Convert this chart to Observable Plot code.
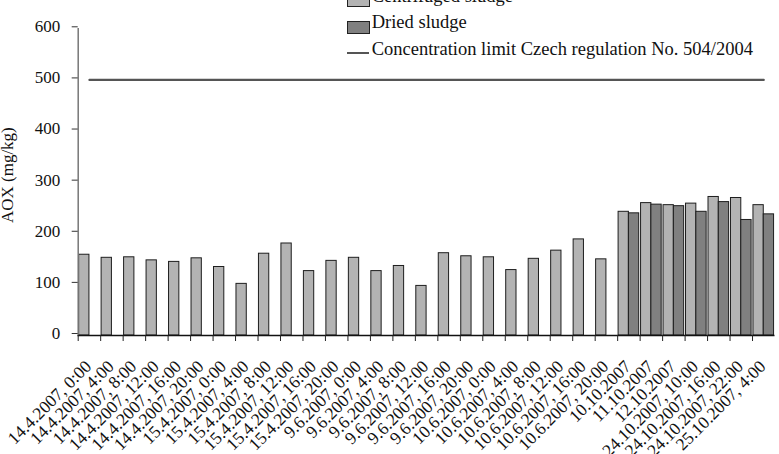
<!DOCTYPE html>
<html>
<head>
<meta charset="utf-8">
<script src="https://cdn.jsdelivr.net/npm/d3@7"></script>
<script src="https://cdn.jsdelivr.net/npm/@observablehq/plot@0.6"></script>
<style>
  html, body { margin: 0; padding: 0; background: #fff; }
  #chart { position: relative; width: 779px; height: 454px; overflow: hidden; font-family: "Liberation Serif", "DejaVu Serif", serif; color: #111; }
  #chart svg, #chart svg text { font-family: "Liberation Serif", "DejaVu Serif", serif; }
  .legend { position: absolute; left: 346.7px; top: -12.7px; font-size: 18.5px; }
  .legend .row { position: relative; height: 26.7px; white-space: nowrap; }
  .legend .box { position: absolute; left: 0; top: 6.7px; width: 21.6px; height: 11px; border: 1px solid #222; }
  .legend .line { position: absolute; left: 0; top: 11.3px; width: 22px; height: 2px; background: #555; }
  .legend .label { position: absolute; left: 25px; top: -0.6px; line-height: 18px; }
</style>
</head>
<body>
<div id="chart"></div>
<script>
// Sampling times (categories along the x axis)
const dates = [
  "14.4.2007, 0:00", "14.4.2007, 4:00", "14.4.2007, 8:00", "14.4.2007, 12:00",
  "14.4.2007, 16:00", "14.4.2007, 20:00", "15.4.2007, 0:00", "15.4.2007, 4:00",
  "15.4.2007, 8:00", "15.4.2007, 12:00", "15.4.2007, 16:00", "15.4.2007, 20:00",
  "9.6.2007, 0:00", "9.6.2007, 4:00", "9.6.2007, 8:00", "9.6.2007, 12:00",
  "9.6.2007, 16:00", "9.6.2007, 20:00", "10.6.2007, 0:00", "10.6.2007, 4:00",
  "10.6.2007, 8:00", "10.6.2007, 12:00", "10.6.2007, 16:00", "10.6.2007, 20:00",
  "10.10.2007", "11.10.2007", "12.10.2007",
  "24.10.2007, 10:00", "24.10.2007, 16:00", "24.10.2007, 22:00", "25.10.2007, 4:00"
];

// AOX in centrifuged sludge (mg/kg), one value per sampling time
const centrifuged = [
  158, 152, 153, 147, 144, 151, 134, 101, 160, 180, 126, 146,
  152, 126, 136, 97, 161, 155, 153, 128, 150, 166, 188, 149,
  242, 259, 255, 258, 271, 269, 255
];

// AOX in dried sludge (mg/kg); only measured in October
const dried = [
  null, null, null, null, null, null, null, null, null, null, null, null,
  null, null, null, null, null, null, null, null, null, null, null, null,
  239, 256, 253, 242, 261, 226, 237
];

// Concentration limit, Czech regulation No. 504/2004 (mg/kg)
const limit = 500;

const yTicks = [0, 100, 200, 300, 400, 500, 600];

const seriesNames = ["Centrifuged sludge", "Dried sludge", "Concentration limit Czech regulation No. 504/2004"];

const width = 779, height = 454;
const marginLeft = 77.7, marginRight = 4.5, marginTop = 28.3, marginBottom = 119;
const band = (width - marginLeft - marginRight) / dates.length;
const edge = band * 0.0415;

const centrifugedRows = dates.map((date, i) => ({date, value: centrifuged[i]})).filter(d => d.value != null);
const driedRows = dates.map((date, i) => ({date, value: dried[i]})).filter(d => d.value != null);
const limitRows = dates.map(date => ({date, value: limit}));

const chart = Plot.plot({
  width, height, marginLeft, marginRight, marginTop, marginBottom,
  style: {fontFamily: "'Liberation Serif', 'DejaVu Serif', serif", fontSize: "17px", color: "#111", background: "#fff"},
  x: {type: "band", domain: dates, range: [marginLeft, width - marginRight], paddingInner: 0, paddingOuter: 0, align: 0.5, round: false, axis: null},
  y: {domain: [0, 600], axis: null},
  marks: [
    Plot.barY(centrifugedRows, {x: "date", y: "value", fill: "#b3b3b3", stroke: "#1e1e1e", strokeWidth: 1, insetLeft: edge, insetRight: band / 2}),
    Plot.barY(driedRows, {x: "date", y: "value", fill: "#808080", stroke: "#1e1e1e", strokeWidth: 1, insetLeft: band / 2, insetRight: edge}),
    Plot.lineY(limitRows, {x: "date", y: "value", stroke: "#555", strokeWidth: 2.2}),
    // y axis: line, ticks and labels
    Plot.frame({anchor: "left", stroke: "#777", strokeWidth: 1.5}),
    Plot.axisY(yTicks, {label: null, tickSize: 6, tickPadding: 12, dy: -2, stroke: "#333", fill: "#111"}),
    Plot.text(["AOX (mg/kg)"], {text: d => d, frameAnchor: "left", textAnchor: "middle", lineAnchor: "middle", rotate: -90, dx: -70.7, dy: -7, fill: "#111"}),
    // x axis: line, ticks between categories, rotated labels
    Plot.ruleY([0], {stroke: "#111", strokeWidth: 1.3}),
    Plot.axisX(dates, {label: null, tickSize: 6, tickFormat: () => "", dx: -band / 2, stroke: "#222"}),
    Plot.text(dates, {x: d => d, text: d => d, frameAnchor: "bottom", rotate: -45, textAnchor: "end", lineAnchor: "middle", dx: -1, dy: 28, fontSize: 17.5, fill: "#111"})
  ]
});

const root = document.getElementById("chart");
root.appendChild(chart);

// Legend, stacked above the plot area
const legend = d3.select(root).append("div").attr("class", "legend");
const swatches = [
  {kind: "box", color: "#b3b3b3"},
  {kind: "box", color: "#808080"},
  {kind: "line", color: "#555"}
];
seriesNames.forEach((name, i) => {
  const row = legend.append("div").attr("class", "row");
  const s = swatches[i];
  if (s.kind === "box") row.append("div").attr("class", "box").style("background", s.color);
  else row.append("div").attr("class", "line").style("background", s.color);
  row.append("div").attr("class", "label").text(name);
});
</script>
</body>
</html>
